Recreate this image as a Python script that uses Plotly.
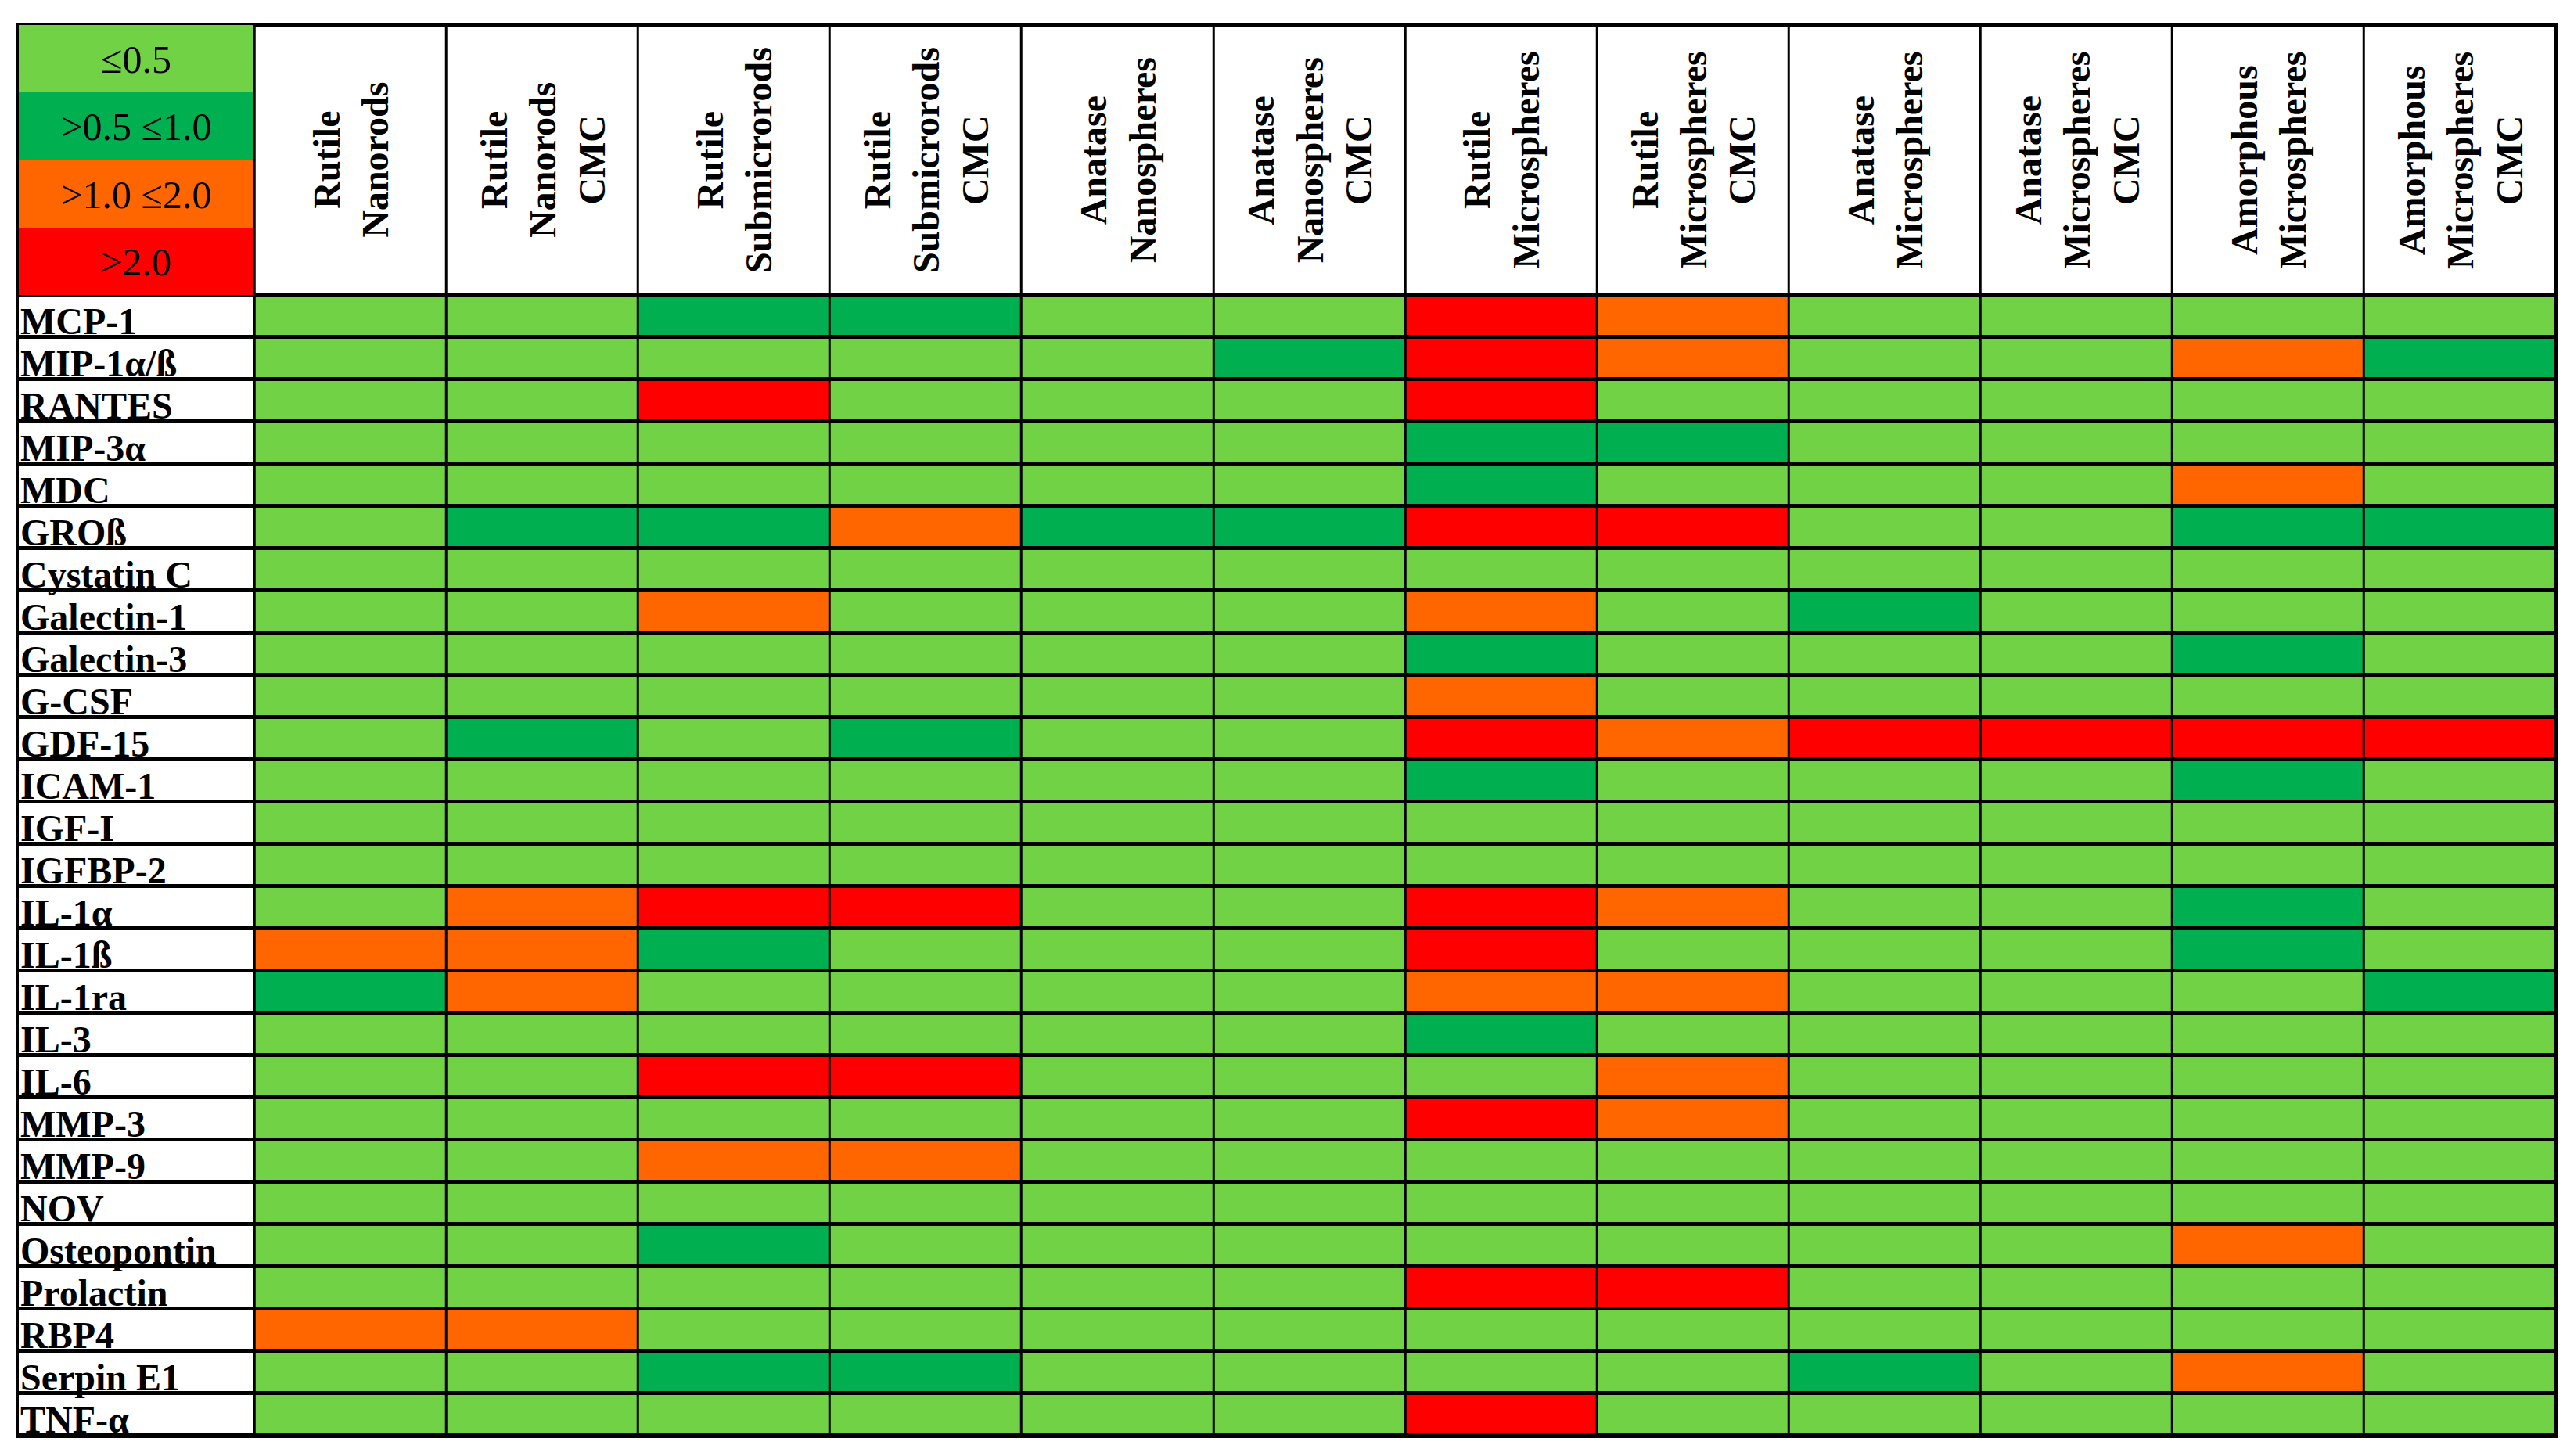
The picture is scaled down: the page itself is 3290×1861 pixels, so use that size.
import plotly.graph_objects as go

# ---------------- data ----------------
rows = ["MCP-1", "MIP-1α/ß", "RANTES", "MIP-3α", "MDC", "GROß", "Cystatin C",
        "Galectin-1", "Galectin-3", "G-CSF", "GDF-15", "ICAM-1", "IGF-I", "IGFBP-2",
        "IL-1α", "IL-1ß", "IL-1ra", "IL-3", "IL-6", "MMP-3", "MMP-9", "NOV",
        "Osteopontin", "Prolactin", "RBP4", "Serpin E1", "TNF-α"]

columns = ["Rutile<br>Nanorods", "Rutile<br>Nanorods<br>CMC",
           "Rutile<br>Submicrorods", "Rutile<br>Submicrorods<br>CMC",
           "Anatase<br>Nanospheres", "Anatase<br>Nanospheres<br>CMC",
           "Rutile<br>Microspheres", "Rutile<br>Microspheres<br>CMC",
           "Anatase<br>Microspheres", "Anatase<br>Microspheres<br>CMC",
           "Amorphous<br>Microspheres", "Amorphous<br>Microspheres<br>CMC"]

legend_labels = ["≤0.5", ">0.5 ≤1.0", ">1.0 ≤2.0", ">2.0"]
# category codes: L = ≤0.5, D = >0.5≤1.0, O = >1.0≤2.0, R = >2.0
rutile_nanorods          = "L L L L L L L L L L L L L L L O D L L L L L L L O L L".split()
rutile_nanorods_cmc      = "L L L L L D L L L L D L L L O O O L L L L L L L O L L".split()
rutile_submicrorods      = "D L R L L D L O L L L L L L R D L L R L O L D L L D L".split()
rutile_submicrorods_cmc  = "D L L L L O L L L L D L L L R L L L R L O L L L L D L".split()
anatase_nanospheres      = "L L L L L D L L L L L L L L L L L L L L L L L L L L L".split()
anatase_nanospheres_cmc  = "L D L L L D L L L L L L L L L L L L L L L L L L L L L".split()
rutile_microspheres      = "R R R D D R L O D O R D L L R R O D L R L L L R L L R".split()
rutile_microspheres_cmc  = "O O L D L R L L L L O L L L O L O L O O L L L R L L L".split()
anatase_microspheres     = "L L L L L L L D L L R L L L L L L L L L L L L L L D L".split()
anatase_microspheres_cmc = "L L L L L L L L L L R L L L L L L L L L L L L L L L L".split()
amorphous_microspheres   = "L O L L O D L L D L R D L L D D L L L L L L O L L O L".split()
amorphous_microspheres_cmc = "L D L L L D L L L L R L L L L L D L L L L L L L L L L".split()

column_values = [rutile_nanorods, rutile_nanorods_cmc, rutile_submicrorods,
                 rutile_submicrorods_cmc, anatase_nanospheres, anatase_nanospheres_cmc,
                 rutile_microspheres, rutile_microspheres_cmc, anatase_microspheres,
                 anatase_microspheres_cmc, amorphous_microspheres, amorphous_microspheres_cmc]

code_to_level = {"L": 0, "D": 1, "O": 2, "R": 3}
WHITE = 4

# ---------------- styling / geometry ----------------
C_L, C_D, C_O, C_R = "#71D246", "#00B050", "#FF6600", "#FF0000"
colorscale = [[0.0, C_L], [0.2, C_L], [0.2, C_D], [0.4, C_D], [0.4, C_O], [0.6, C_O],
              [0.6, C_R], [0.8, C_R], [0.8, "#FFFFFF"], [1.0, "#FFFFFF"]]
FONT = "Liberation Serif"

# the page body has an 8px margin, so the figure is a bit smaller than the window
W, H = 3274, 1845
mL, mR, mT, mB = 15, 12, 24, 18
plot_w = W - mL - mR
plot_h = H - mT - mB
label_px = 303
header_px = 345
ncol, nrow = len(columns), len(rows)
col_px = (plot_w - label_px) / ncol
row_px = (plot_h - header_px) / nrow
x_left = -0.5 - label_px / col_px
y_top = -0.5 - header_px / row_px

col_edges = [i - 0.5 for i in range(ncol + 1)]
row_edges = [i - 0.5 for i in range(nrow + 1)]

z_body = [[code_to_level[column_values[c][r]] for c in range(ncol)] for r in range(nrow)]

common = dict(colorscale=colorscale, zmin=-0.5, zmax=4.5, showscale=False, hoverinfo="skip")

fig = go.Figure()
# body cells
fig.add_trace(go.Heatmap(x=col_edges, y=row_edges, z=z_body, xgap=3, ygap=5, **common))
# row-label cells
fig.add_trace(go.Heatmap(x=[x_left, -0.5], y=row_edges, z=[[WHITE] for _ in rows],
                         xgap=3, ygap=5, **common))
# column-header cells
fig.add_trace(go.Heatmap(x=col_edges, y=[y_top, -0.5], z=[[WHITE] * ncol],
                         xgap=3, ygap=5, **common))
# legend block
leg_edges = [y_top + (-0.5 - y_top) * k / 4 for k in range(5)]
fig.add_trace(go.Heatmap(x=[x_left, -0.5], y=leg_edges, z=[[k] for k in range(4)],
                         text=[[t] for t in legend_labels], texttemplate="%{text}",
                         textfont=dict(family=FONT, size=50, color="black"),
                         xgap=3, ygap=0, **common))

annotations = []
for c, name in enumerate(columns):
    annotations.append(dict(x=c, y=(y_top - 0.5) / 2, xref="x", yref="y",
                            text=f"<b>{name}</b>", showarrow=False, textangle=-90,
                            align="center", font=dict(family=FONT, size=48, color="black")))
for r, name in enumerate(rows):
    annotations.append(dict(x=x_left, y=r, xref="x", yref="y", xanchor="left",
                            yanchor="middle", xshift=1, yshift=-6,
                            text=f"<b>{name}</b>", showarrow=False,
                            font=dict(family=FONT, size=48, color="black")))

fig.update_layout(
    width=W, height=H,
    margin=dict(l=mL, r=mR, t=mT, b=mB, pad=0),
    paper_bgcolor="white", plot_bgcolor="black",
    annotations=annotations,
    xaxis=dict(range=[x_left, 11.5], showgrid=False, zeroline=False, showticklabels=False,
               ticks="", showline=True, mirror=True, linecolor="black", linewidth=3,
               fixedrange=True),
    yaxis=dict(range=[26.5, y_top], showgrid=False, zeroline=False, showticklabels=False,
               ticks="", showline=True, mirror=True, linecolor="black", linewidth=3,
               fixedrange=True),
)

fig.write_html("out.html")
